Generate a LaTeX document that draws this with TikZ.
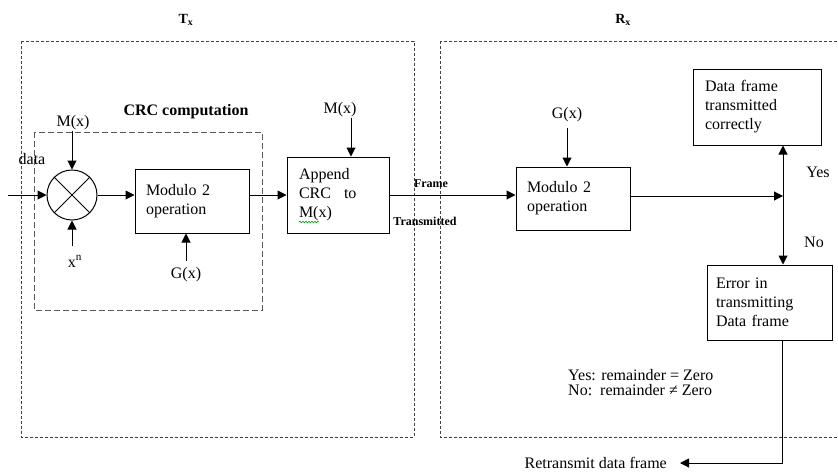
\documentclass[tikz,border=0pt]{standalone}
\usepackage{fontspec}
\setmainfont{Liberation Serif}
\usetikzlibrary{arrows.meta,decorations.pathmorphing}
\begin{document}
\begin{tikzpicture}[x=1pt,y=-1pt,
  every node/.style={font=\fontsize{16}{19}\selectfont, inner sep=1pt},
  ttl/.style={font=\fontsize{12}{14}\selectfont\bfseries},
  side/.style={font=\fontsize{14}{16}\selectfont\bfseries},
  blk/.style={draw, line width=1pt, align=left, inner ysep=0pt},
  arr/.style={line width=1pt, -{Triangle[length=9pt,width=9pt]}},
  region/.style={draw=black!75, line width=0.8pt, dash pattern=on 3pt off 2pt},
  crcbox/.style={draw=black!65, line width=1pt, dash pattern=on 6pt off 3pt}]
\useasboundingbox (0,0) rectangle (838,472);
\clip (0,0) rectangle (838,472);

% transmitter / receiver regions
\draw[region] (21,41) rectangle (414,437);
\draw[region] (440,41) rectangle (850,437);
\node[side, anchor=base] (tx) at (186,23) {T\textsubscript{x}};
\node[side, anchor=base] (rx) at (623,23) {R\textsubscript{x}};

% CRC computation group
\draw[crcbox] (34,132) rectangle (262,310);
\node[anchor=base, font=\fontsize{16}{19}\selectfont\bfseries] (crc) at (186,115) {CRC computation};

% transmitter blocks
\node[draw, circle, line width=1pt, minimum size=50pt, inner sep=0pt] (circ) at (72,195) {};
\draw[line width=1pt] (circ.45) -- (circ.225) (circ.135) -- (circ.315);
\node[blk, text width=92pt, inner xsep=11pt, minimum height=64pt] (mod1) at (192,201) {Modulo 2\\operation};
\node[blk, text width=78pt, inner xsep=12pt, minimum height=76pt] (append) at (338,195) {Append\\CRC\hspace{13pt}to\\M(x)};
\draw[green!60!black, line width=0.6pt, decorate, decoration={snake, amplitude=0.8pt, segment length=3pt}] (299,222) -- (319,222);

% transmitter labels
\node[anchor=base] (data) at (32,164) {data};
\node[anchor=base] (mx1) at (73,126) {M(x)};
\node[anchor=base] (xn) at (75,267) {x\textsuperscript{n}};
\node[anchor=base] (g1) at (186,278) {G(x)};
\node[anchor=base] (mx2) at (340,113) {M(x)};

% transmitter connectors
\coordinate (din) at (8,195);
\draw[arr] (din) -- (circ.west);
\draw[arr] (circ.north |- mx1.south) -- (circ.north);
\draw[arr, shorten <=8pt] (circ.south |- xn.north) -- (circ.south);
\draw[arr] (circ.east) -- (circ.east -| mod1.west);
\draw[arr, shorten <=5pt] (g1.north) -- (g1.north |- mod1.south);
\draw[arr] (append.west -| mod1.east) -- (append.west);
\draw[arr] ([xshift=13pt]append.north |- mx2.south) -- ([xshift=13pt]append.north);

% receiver blocks
\node[blk, text width=92pt, inner xsep=11pt, minimum height=63pt] (rxmod) at (573,198.5) {Modulo 2\\operation};
\node[blk, text width=104pt, inner xsep=12pt, minimum height=76pt] (dfok) at (757,107) {Data frame\\transmitted\\correctly};
\node[blk, text width=107pt, inner xsep=9pt, minimum height=75pt] (err) at (769.5,302.5) {Error in\\transmitting\\Data frame};
\node[anchor=base] (g2) at (567,118) {G(x)};

% frame transmission link
\node[ttl, anchor=base] (frm) at (431,187) {Frame};
\node[ttl, anchor=base] (trn) at (425,225) {Transmitted};
\draw[arr] (append.east) -- (append.east -| rxmod.west);
\draw[arr, shorten <=5pt] (g2.south) -- (g2.south |- rxmod.north);

% decision branch
\coordinate (J) at (783,196);
\draw[arr] (rxmod.east |- J) -- (J);
\draw[arr] (J) -- (J |- dfok.south);
\draw[arr] (J) -- (J |- err.north);
\node[anchor=base] (yes) at (818,177) {Yes};
\node[anchor=base] (no) at (814,247) {No};

% legend and retransmission
\node[anchor=base west] (ryes) at (567,380) {Yes: remainder = Zero};
\node[anchor=base west] (rno) at (567,395) {No:\ \ remainder ≠ Zero};
\node[anchor=east, inner xsep=13pt] (retx) at (680,463) {Retransmit data frame};
\draw[arr] ([xshift=12.5pt]err.south) |- (retx.east);
\end{tikzpicture}
\end{document}
